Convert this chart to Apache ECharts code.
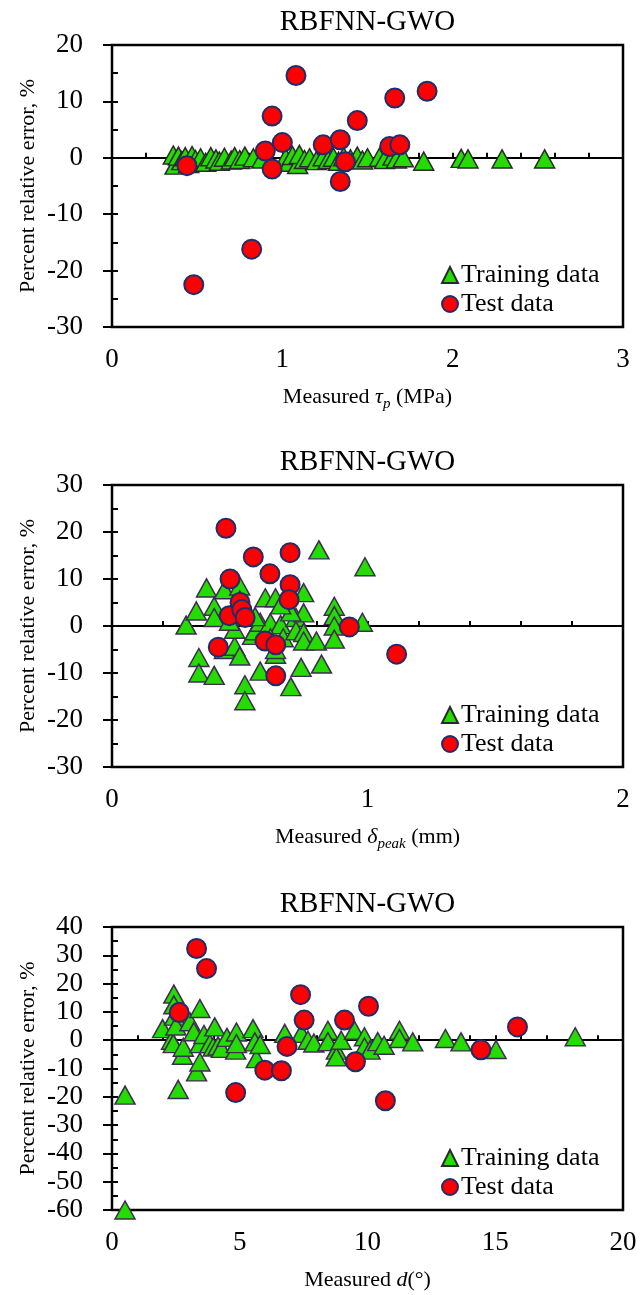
<!DOCTYPE html>
<html>
<head>
<meta charset="utf-8">
<script src="https://cdn.jsdelivr.net/npm/echarts@6/dist/echarts.min.js"></script>
<style>
  html, body { margin: 0; padding: 0; background: #fff; }
  #chart { width: 643px; height: 1295px; }
</style>
</head>
<body>
<div id="chart"></div>
<script>
// Peak shear strength tau_p (MPa) vs percent relative error (%)
const tauTrain = [
  [0.36, 0.5], [0.37, -1.3], [0.39, 0.3], [0.41, -0.5], [0.43, 0.2], [0.45, -1.0], [0.47, 0.4],
  [0.49, -0.3], [0.52, 0.0], [0.55, -0.8], [0.58, 0.2], [0.61, -0.2], [0.63, -0.6], [0.66, 0.1],
  [0.70, -0.4], [0.72, 0.2], [0.75, -0.3], [0.78, 0.3], [0.83, 0.0], [0.88, -0.2], [1.02, 0.0],
  [1.04, -0.8], [1.06, 0.4], [1.09, -1.2], [1.10, 0.6], [1.13, -0.3], [1.16, 0.0], [1.20, -0.5],
  [1.24, 0.2], [1.27, -0.3], [1.30, 0.1], [1.33, -0.6], [1.36, 0.2], [1.40, -0.2], [1.44, 0.3],
  [1.47, -0.4], [1.50, 0.0], [1.57, 0.1], [1.60, -0.3], [1.65, 0.3], [1.67, -0.2], [1.71, 0.0],
  [1.83, -0.6], [2.05, -0.1], [2.09, -0.2], [2.29, -0.2], [2.54, -0.2]
];
const tauTest = [
  [0.44, -1.4], [0.48, -22.5], [0.82, -16.2], [0.90, 1.2], [0.94, 7.4], [0.94, -2.0], [1.00, 2.7],
  [1.08, 14.6], [1.24, 2.3], [1.34, 3.2], [1.34, -4.2], [1.37, -0.7], [1.44, 6.6], [1.63, 2.0],
  [1.66, 10.6], [1.69, 2.3], [1.85, 11.8]
];

// Peak shear displacement delta_peak (mm) vs percent relative error (%)
const peakTrain = [
  [0.29, 0.2], [0.33, 3.2], [0.34, -6.7], [0.34, -10.0], [0.37, 8.1], [0.40, -10.5], [0.40, 4.2],
  [0.40, 1.8], [0.44, 7.7], [0.44, -5.0], [0.48, -4.3], [0.48, -0.7], [0.50, 8.5], [0.50, -6.4],
  [0.52, -12.5], [0.52, -15.9], [0.50, 5.5], [0.53, 3.0], [0.55, -2.0], [0.56, -1.0], [0.58, -9.6],
  [0.58, 0.8], [0.60, 6.0], [0.60, -1.5], [0.62, 0.7], [0.64, 6.0], [0.64, -6.0], [0.64, -5.0],
  [0.66, 0.3], [0.67, -2.5], [0.70, -12.9], [0.72, 1.8], [0.72, -1.0], [0.75, 7.1], [0.75, 2.8],
  [0.75, -1.4], [0.75, -3.2], [0.74, -8.8], [0.80, -3.2], [0.81, 16.2], [0.82, -8.1], [0.87, 4.2],
  [0.87, 2.2], [0.87, 0.0], [0.87, -2.8], [0.99, 12.6], [0.98, 0.8], [0.56, 2.0], [0.46, 1.0],
  [0.62, -2.5], [0.70, 3.0], [0.66, 4.5]
];
const peakTest = [
  [0.446, 20.8], [0.462, 10.0], [0.459, 2.2], [0.416, -4.5], [0.501, 5.0], [0.508, 3.5], [0.521, 1.8],
  [0.553, 14.7], [0.599, -3.2], [0.618, 11.1], [0.641, -4.0], [0.641, -10.6], [0.697, 15.6],
  [0.697, 8.8], [0.693, 5.6], [0.929, -0.2], [1.114, -6.0]
];

// Dilation angle d (deg) vs percent relative error (%)
const dilTrain = [
  [0.51, -19.4], [0.51, -60.0], [1.98, 4.1], [2.33, 0.0], [2.40, -1.2], [2.42, 16.3], [2.42, 12.5],
  [2.45, 8.5], [2.50, 5.0], [2.59, -17.4], [2.76, -5.3], [2.79, -2.5], [3.05, 6.5], [3.20, 3.0],
  [3.31, -11.2], [3.44, -7.7], [3.44, 11.2], [3.44, -1.2], [3.60, 2.0], [3.83, -1.2], [3.96, -2.4],
  [4.02, 4.7], [4.15, -2.0], [4.28, -2.9], [4.50, 1.0], [4.84, -3.5], [4.87, 2.9], [4.87, -1.2],
  [5.52, 4.1], [5.59, -0.6], [5.65, -6.5], [5.80, -1.5], [6.76, 2.4], [7.41, 2.4], [7.67, 0.0],
  [7.90, -1.0], [8.45, 3.5], [8.45, -0.5], [8.78, -3.5], [8.78, -5.9], [8.97, 0.0], [9.49, 3.5],
  [9.88, 1.2], [9.88, -2.4], [10.10, -3.5], [10.40, -0.5], [10.65, -1.8], [11.25, 3.5], [11.25, 0.6],
  [11.77, -0.6], [13.05, 0.6], [13.66, -0.6], [15.03, -3.3], [18.13, 1.2]
];
const dilTest = [
  [2.63, 9.8], [3.31, 32.4], [3.70, 25.3], [4.84, -18.5], [5.98, -10.6], [6.63, -10.8], [6.85, -2.2],
  [7.38, 16.1], [7.52, 7.1], [9.10, 7.1], [9.53, -7.6], [10.04, 12.0], [10.70, -21.4], [14.44, -3.4],
  [15.87, 4.7]
];

// Axis ranges: [min, max, label step, tick step]
const tauX = [0, 3, 1, 0.2];
const peakX = [0, 2, 1, 0.2];
const dilX = [0, 20, 5, 1];
const tauY = [-30, 20, 10, 5];
const peakY = [-30, 30, 10, 5];
const dilY = [-60, 40, 10, 5];

const titleText = 'RBFNN-GWO';
const yName = 'Percent relative error, %';
const seriesNames = ['Training data', 'Test data'];

const FONT = "'Liberation Serif','Times New Roman',serif";
const GREEN = '#25DC00';
const RED = '#FF0000';
const NAVY = '#1F2D6B';
const LEFT = 112, WIDTH = 511;

const panels = [
  { train: tauTrain, test: tauTest, x: tauX, y: tauY, top: 45, height: 282, triBorder: '#2a2a2a',
    xName: '{t|Measured }{i|τ}{s|p}{t| (MPa)}' },
  { train: peakTrain, test: peakTest, x: peakX, y: peakY, top: 485, height: 282, triBorder: '#3E2C52',
    xName: '{t|Measured }{i|δ}{s|peak}{t| (mm)}' },
  { train: dilTrain, test: dilTest, x: dilX, y: dilY, top: 927, height: 283, triBorder: '#3E2C52',
    xName: '{t|Measured }{i|d}{t|(°)}' }
];

const nameRich = {
  t: { fontFamily: FONT, fontSize: 22, lineHeight: 30, color: '#000' },
  i: { fontFamily: FONT, fontSize: 22, lineHeight: 30, color: '#000', fontStyle: 'italic' },
  s: { fontFamily: FONT, fontSize: 15, lineHeight: 16, color: '#000', fontStyle: 'italic', verticalAlign: 'bottom' }
};

const grid = [], xAxis = [], yAxis = [], series = [], title = [], legend = [];

panels.forEach((p, i) => {
  grid.push({
    left: LEFT, top: p.top, width: WIDTH, height: p.height,
    show: true, borderColor: '#000', borderWidth: 2.5, backgroundColor: 'transparent',
    containLabel: false, outerBoundsMode: 'none'
  });

  // bottom axis: tick labels and axis title
  xAxis.push({
    type: 'value', gridIndex: i, position: 'bottom',
    min: p.x[0], max: p.x[1], interval: p.x[2],
    axisLine: { show: false, onZero: false },
    axisTick: { show: false },
    splitLine: { show: false },
    axisLabel: { fontFamily: FONT, fontSize: 27, color: '#000', margin: 19 },
    name: p.xName, nameLocation: 'middle', nameGap: 55, nameMoveOverlap: false,
    nameTextStyle: { rich: nameRich }
  });
  // zero line with small upward ticks
  xAxis.push({
    type: 'value', gridIndex: i, position: 'top',
    min: p.x[0], max: p.x[1], interval: p.x[3],
    axisLine: { show: true, onZero: true, lineStyle: { color: '#000', width: 2 } },
    axisTick: { show: true, inside: false, length: 5, lineStyle: { color: '#000', width: 2 } },
    axisLabel: { show: false },
    splitLine: { show: false }
  });

  // left axis: labels and major ticks pointing outward
  yAxis.push({
    type: 'value', gridIndex: i, position: 'left',
    min: p.y[0], max: p.y[1], interval: p.y[2],
    axisLine: { show: false, onZero: false },
    axisTick: { show: true, inside: false, length: 9, lineStyle: { color: '#000', width: 2 } },
    splitLine: { show: false },
    axisLabel: { fontFamily: FONT, fontSize: 27, color: '#000', margin: 29 },
    name: yName, nameLocation: 'middle', nameRotate: 90, nameGap: 73, nameMoveOverlap: false,
    nameTextStyle: { fontFamily: FONT, fontSize: 22, color: '#000' }
  });
  // minor ticks pointing into the plot, drawn on the left edge
  yAxis.push({
    type: 'value', gridIndex: i, position: 'right', offset: -WIDTH,
    min: p.y[0], max: p.y[1], interval: p.y[3],
    axisLine: { show: false, onZero: false },
    axisTick: { show: true, inside: false, length: 6, lineStyle: { color: '#000', width: 2 } },
    axisLabel: { show: false },
    splitLine: { show: false }
  });

  series.push({
    name: seriesNames[0], type: 'scatter', xAxisIndex: 2 * i, yAxisIndex: 2 * i,
    data: p.train, symbol: 'triangle', symbolSize: [20, 18],
    itemStyle: { color: GREEN, borderColor: p.triBorder, borderWidth: 1.5, opacity: 1 },
    emphasis: { disabled: true }, z: 3
  });
  series.push({
    name: seriesNames[1], type: 'scatter', xAxisIndex: 2 * i, yAxisIndex: 2 * i,
    data: p.test, symbol: 'circle', symbolSize: 19,
    itemStyle: { color: RED, borderColor: NAVY, borderWidth: 2, opacity: 1 },
    emphasis: { disabled: true }, z: 4
  });

  title.push({
    text: titleText, left: LEFT + WIDTH / 2, textAlign: 'center',
    top: p.top - 37, padding: 0,
    textStyle: { fontFamily: FONT, fontSize: 29, fontWeight: 'normal', color: '#000', lineHeight: 29 }
  });

  legend.push({
    data: seriesNames, orient: 'vertical', left: 441, top: p.top + p.height - 65,
    padding: 0, itemGap: 3, itemWidth: 16, itemHeight: 16,
    selectedMode: false,
    textStyle: { fontFamily: FONT, fontSize: 26, color: '#000', lineHeight: 26, padding: [0, 0, 0, -2] }
  });
});

const chart = echarts.init(document.getElementById('chart'), null, { renderer: 'canvas' });
chart.setOption({
  animation: false,
  backgroundColor: '#fff',
  title, legend, grid, xAxis, yAxis, series
});
</script>
</body>
</html>
